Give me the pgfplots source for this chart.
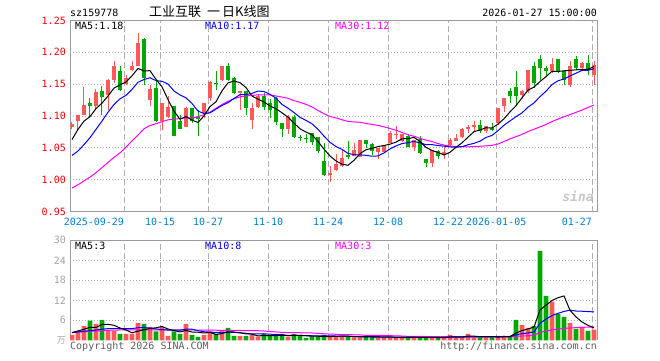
\documentclass[border=0pt]{standalone}
\usepackage{pgfplots}
\pgfplotsset{compat=1.18}
\usepackage{fontspec}
\setmainfont{DejaVu Sans Mono}
\newfontfamily\cjk{Noto Sans CJK SC}
\definecolor{cR}{RGB}{255,88,88}
\definecolor{cG}{RGB}{0,168,0}
\definecolor{frameC}{RGB}{155,155,155}
\definecolor{gridC}{RGB}{175,175,175}
\definecolor{xlabC}{RGB}{0,128,210}
\definecolor{vlabC}{RGB}{165,165,165}
\definecolor{footC}{RGB}{95,95,95}
\definecolor{maB}{RGB}{0,0,255}
\definecolor{maM}{RGB}{255,0,255}

\pgfplotstableread{
i v
0 1.063
1 1.079
2 1.092
3 1.099
4 1.1116
5 1.1202
6 1.1314
7 1.1438
8 1.149
9 1.1534
10 1.1632
11 1.1746
12 1.1708
13 1.1712
14 1.1576
15 1.1458
16 1.1258
17 1.1076
18 1.095
19 1.0992
20 1.0936
21 1.0898
22 1.1002
23 1.1148
24 1.1224
25 1.1396
26 1.152
27 1.155
28 1.1524
29 1.1446
30 1.1314
31 1.1264
32 1.122
33 1.1158
34 1.1114
35 1.105
36 1.0982
37 1.0888
38 1.080
39 1.0748
40 1.0706
41 1.060
42 1.048
43 1.0372
44 1.0294
45 1.0244
46 1.0226
47 1.0304
48 1.0408
49 1.047
50 1.0492
51 1.052
52 1.0536
53 1.0558
54 1.059
55 1.0642
56 1.0646
57 1.0664
58 1.060
59 1.0508
60 1.0458
61 1.0428
62 1.0388
63 1.043
64 1.051
65 1.0578
66 1.0668
67 1.0754
68 1.078
69 1.0816
70 1.0812
71 1.0872
72 1.0956
73 1.1066
74 1.1162
75 1.1286
76 1.1406
77 1.1454
78 1.1542
79 1.1618
80 1.1702
81 1.170
82 1.171
83 1.1716
84 1.1726
85 1.173
86 1.1732
87 1.1778
}\maFive

\pgfplotstableread{
i v
0 1.038
1 1.045
2 1.055
3 1.066
4 1.079
5 1.092
6 1.106
7 1.118
8 1.127
9 1.1325
10 1.1417
11 1.153
12 1.1573
13 1.1601
14 1.1555
15 1.1545
16 1.1502
17 1.1392
18 1.1331
19 1.1284
20 1.1197
21 1.1078
22 1.1039
23 1.1049
24 1.1108
25 1.1166
26 1.1209
27 1.1276
28 1.1336
29 1.1335
30 1.1355
31 1.1392
32 1.1385
33 1.1341
34 1.128
35 1.1182
36 1.1123
37 1.1054
38 1.0979
39 1.0931
40 1.0878
41 1.0791
42 1.0684
43 1.0586
44 1.0521
45 1.0475
46 1.0413
47 1.0392
48 1.039
49 1.0382
50 1.0368
51 1.0373
52 1.042
53 1.0483
54 1.053
55 1.0567
56 1.0583
57 1.060
58 1.0579
59 1.0549
60 1.055
61 1.0537
62 1.0526
63 1.0515
64 1.0509
65 1.0518
66 1.0548
67 1.0571
68 1.0605
69 1.0663
70 1.0695
71 1.077
72 1.0855
73 1.0923
74 1.0989
75 1.1049
76 1.1139
77 1.1205
78 1.1304
79 1.139
80 1.1494
81 1.1553
82 1.1582
83 1.1629
84 1.1672
85 1.1716
86 1.1716
87 1.1744
}\maTen

\pgfplotstableread{
i v
0 0.987
1 0.992
2 0.998
3 1.004
4 1.011
5 1.019
6 1.027
7 1.035
8 1.042
9 1.051
10 1.061
11 1.070
12 1.080
13 1.085
14 1.088
15 1.091
16 1.094
17 1.095
18 1.096
19 1.097
20 1.097
21 1.099
22 1.102
23 1.106
24 1.112
25 1.118
26 1.123
27 1.127
28 1.130
29 1.1315
30 1.1323
31 1.1333
32 1.1332
33 1.1330
34 1.1314
35 1.1298
36 1.1278
37 1.1241
38 1.1215
39 1.1183
40 1.1143
41 1.1087
42 1.1036
43 1.0992
44 1.0970
45 1.0941
46 1.0915
47 1.0907
48 1.0902
49 1.0883
50 1.0867
51 1.0852
52 1.0830
53 1.0803
54 1.0777
55 1.0741
56 1.0706
57 1.0682
58 1.0649
59 1.0621
60 1.0599
61 1.0567
62 1.0543
63 1.0528
64 1.0520
65 1.0520
66 1.0515
67 1.0521
68 1.0525
69 1.0531
70 1.0538
71 1.0560
72 1.0600
73 1.0640
74 1.0676
75 1.0711
76 1.0757
77 1.0792
78 1.0829
79 1.0867
80 1.0913
81 1.0953
82 1.0988
83 1.1022
84 1.1057
85 1.1094
86 1.1134
87 1.1173
}\maThirty

\pgfplotstableread{
i v
0 2.3
1 2.8
2 3.3
3 3.9
4 3.86
5 4.76
6 4.8
7 4.5
8 3.7
9 3.1
10 2.26
11 2.74
12 3.16
13 3.58
14 3.74
15 4.16
16 3.38
17 2.94
18 2.52
19 2.96
20 2.48
21 2.42
22 2.2
23 2.36
24 1.76
25 2.02
26 2.56
27 2.5
28 2.22
29 2.1
30 1.84
31 1.32
32 1.44
33 1.44
34 1.44
35 1.5
36 1.5
37 1.5
38 1.5
39 1.38
40 1.22
41 1.22
42 1.16
43 1.12
44 1.2
45 1.24
46 1.24
47 1.1
48 1.06
49 1.06
50 0.98
51 0.94
52 0.94
53 0.94
54 0.9
55 0.9
56 0.9
57 0.9
58 0.88
59 0.86
60 0.86
61 0.84
62 0.84
63 1.0
64 1.02
65 1.02
66 1.24
67 1.24
68 1.1
69 1.1
70 1.1
71 0.98
72 1.06
73 1.14
74 2.18
75 2.92
76 3.4
77 4.0
78 9.1
79 10.54
80 11.94
81 12.78
82 13.32
83 9.0
84 7.02
85 5.5
86 4.48
87 3.72
}\vmaFive

\pgfplotstableread{
i v
0 2.3
1 2.5
2 2.7
3 2.9
4 3.1
5 3.3
6 3.5
7 3.5
8 3.5
9 3.48
10 3.51
11 3.77
12 3.83
13 3.64
14 3.42
15 3.21
16 3.06
17 3.05
18 3.05
19 3.35
20 3.32
21 2.9
22 2.57
23 2.44
24 2.36
25 2.25
26 2.49
27 2.35
28 2.29
29 1.93
30 1.93
31 1.94
32 1.97
33 1.83
34 1.77
35 1.67
36 1.41
37 1.47
38 1.47
39 1.41
40 1.36
41 1.36
42 1.33
43 1.31
44 1.29
45 1.23
46 1.23
47 1.13
48 1.09
49 1.13
50 1.11
51 1.09
52 1.02
53 1.0
54 0.98
55 0.94
56 0.92
57 0.92
58 0.91
59 0.88
60 0.88
61 0.87
62 0.87
63 0.94
64 0.94
65 0.94
66 1.04
67 1.04
68 1.05
69 1.06
70 1.06
71 1.11
72 1.15
73 1.12
74 1.64
75 2.01
76 2.19
77 2.53
78 5.12
79 6.36
80 7.43
81 8.09
82 8.66
83 9.05
84 8.78
85 8.72
86 8.63
87 8.52
}\vmaTen

\pgfplotstableread{
i v
0 2.4
2 2.6
4 2.8
6 3.0
8 3.1
10 3.1
15 3.15
20 3.1
25 3.0
28 2.95
29 2.92
30 2.92
31 2.87
32 2.79
33 2.64
34 2.52
35 2.38
36 2.32
37 2.29
38 2.27
39 2.23
40 2.2
41 2.07
42 1.96
43 1.86
44 1.81
45 1.72
46 1.71
47 1.65
48 1.62
49 1.49
50 1.47
51 1.46
52 1.44
53 1.38
54 1.35
55 1.28
56 1.19
57 1.17
58 1.16
59 1.14
60 1.12
61 1.11
62 1.07
63 1.08
64 1.07
65 1.04
66 1.06
67 1.03
68 1.02
69 1.02
70 1.02
71 1.02
72 1.01
73 1.02
74 1.19
75 1.30
76 1.38
77 1.50
78 2.36
79 2.77
80 3.12
81 3.36
82 3.56
83 3.70
84 3.79
85 3.89
86 3.95
87 4.03
}\vmaThirty

\begin{document}
\begin{tikzpicture}
\useasboundingbox (0pt,0pt) rectangle (660pt,360pt);
\fill[white] (0pt,0pt) rectangle (660pt,360pt);

% ---------------- price panel ----------------
\begin{axis}[
  at={(70pt,148.5pt)}, anchor=south west,
  scale only axis, width=527pt, height=191pt,
  xmin=-0.333, xmax=87.5, ymin=0.95, ymax=1.25,
  axis line style={draw=frameC, line width=1pt},
  major tick length=0pt,
  xtick={14.7,22.7,32.7,42.7,52.7,62.7,70.7},
  xticklabels={10-15,10-27,11-10,11-24,12-08,12-22,2026-01-05},
  extra x ticks={8.7,86.7},
  extra x tick labels={2025-09-29,01-27},
  extra x tick style={grid=major, major tick length=0pt,
     xticklabel style={anchor=north east, xshift=0pt}},
  ytick={0.95,1.00,1.05,1.10,1.15,1.20,1.25},
  yticklabels={0.95,1.00,1.05,1.10,1.15,1.20,1.25},
  xmajorgrids, ymajorgrids,
  x grid style={draw=gridC, line width=1pt, dash pattern=on 6pt off 3pt},
  y grid style={draw=gridC, line width=1pt, dash pattern=on 1pt off 2pt},
  xticklabel style={font=\fontsize{10}{10}\selectfont, text=xlabC, inner sep=0pt,
     text height=7.3pt, text depth=0pt, anchor=north, yshift=-6.8pt},
  yticklabel style={font=\fontsize{10}{10}\selectfont, text=red, inner sep=0pt,
     anchor=east, xshift=-4pt},
  /pgf/number format/assume math mode=true,
  unbounded coords=jump,
]
% red wicks
\addplot[cR, line width=1pt, mark=none] coordinates {
(0,1.079)(0,1.090)(0,nan) (1,1.078)(1,1.102)(1,nan) (2,1.101)(2,1.146)(2,nan)
(4,1.109)(4,1.142)(4,nan) (6,1.109)(6,1.158)(6,nan) (7,1.152)(7,1.187)(7,nan)
(9,1.149)(9,1.165)(9,nan) (10,1.170)(10,1.186)(10,nan) (11,1.178)(11,1.230)(11,nan)
(13,1.115)(13,1.149)(13,nan) (15,1.078)(15,1.121)(15,nan) (16,1.097)(16,1.132)(16,nan)
(19,1.082)(19,1.114)(19,nan) (22,1.097)(22,1.121)(22,nan) (23,1.123)(23,1.155)(23,nan)
(25,1.155)(25,1.179)(25,nan) (28,1.109)(28,1.140)(28,nan) (30,1.080)(30,1.121)(30,nan)
(31,1.113)(31,1.134)(31,nan) (36,1.072)(36,1.102)(36,nan) (43,0.996)(43,1.021)(43,nan)
(44,1.014)(44,1.040)(44,nan) (45,1.020)(45,1.046)(45,nan) (47,1.037)(47,1.058)(47,nan)
(48,1.036)(48,1.063)(48,nan) (51,1.033)(51,1.050)(51,nan) (52,1.042)(52,1.055)(52,nan)
(53,1.058)(53,1.076)(53,nan) (54,1.064)(54,1.085)(54,nan) (55,1.059)(55,1.071)(55,nan)
(57,1.045)(57,1.063)(57,nan) (60,1.020)(60,1.047)(60,nan) (62,1.033)(62,1.051)(62,nan)
(63,1.053)(63,1.066)(63,nan) (64,1.060)(64,1.071)(64,nan) (65,1.066)(65,1.081)(65,nan)
(66,1.073)(66,1.086)(66,nan) (67,1.076)(67,1.092)(67,nan) (69,1.074)(69,1.085)(69,nan)
(71,1.086)(71,1.112)(71,nan) (72,1.107)(72,1.128)(72,nan) (75,1.126)(75,1.141)(75,nan)
(76,1.136)(76,1.173)(76,nan) (80,1.167)(80,1.191)(80,nan) (83,1.145)(83,1.187)(83,nan)
(85,1.172)(85,1.185)(85,nan) (87,1.149)(87,1.187)(87,nan)
};
% green wicks
\addplot[cG, line width=1pt, mark=none] coordinates {
(3,1.099)(3,1.128)(3,nan) (5,1.101)(5,1.147)(5,nan) (8,1.139)(8,1.178)(8,nan)
(12,1.149)(12,1.222)(12,nan) (14,1.090)(14,1.157)(14,nan) (17,1.068)(17,1.116)(17,nan)
(18,1.080)(18,1.101)(18,nan) (20,1.089)(20,1.112)(20,nan) (21,1.069)(21,1.110)(21,nan)
(24,1.141)(24,1.170)(24,nan) (26,1.155)(26,1.183)(26,nan) (27,1.134)(27,1.161)(27,nan)
(29,1.102)(29,1.140)(29,nan) (32,1.110)(32,1.136)(32,nan) (33,1.097)(33,1.126)(33,nan)
(34,1.086)(34,1.130)(34,nan) (35,1.067)(35,1.089)(35,nan) (37,1.066)(37,1.101)(37,nan)
(38,1.060)(38,1.070)(38,nan) (39,1.057)(39,1.071)(39,nan) (40,1.055)(40,1.074)(40,nan)
(41,1.042)(41,1.067)(41,nan) (42,1.006)(42,1.057)(42,nan) (46,1.033)(46,1.060)(46,nan)
(49,1.050)(49,1.063)(49,nan) (50,1.039)(50,1.058)(50,nan) (56,1.052)(56,1.071)(56,nan)
(58,1.040)(58,1.068)(58,nan) (59,1.020)(59,1.033)(59,nan) (61,1.033)(61,1.047)(61,nan)
(68,1.074)(68,1.094)(68,nan) (70,1.076)(70,1.089)(70,nan) (73,1.121)(73,1.144)(73,nan)
(74,1.118)(74,1.171)(74,nan) (77,1.144)(77,1.185)(77,nan) (78,1.157)(78,1.196)(78,nan)
(79,1.162)(79,1.178)(79,nan) (81,1.167)(81,1.190)(81,nan) (82,1.149)(82,1.172)(82,nan)
(84,1.172)(84,1.194)(84,nan) (86,1.164)(86,1.196)(86,nan)
};
% red bodies (open -> close)
\addplot[cR, line width=4.8pt, mark=none] coordinates {
(0,1.083)(0,1.087)(0,nan) (1,1.092)(1,1.101)(1,nan) (2,1.102)(2,1.117)(2,nan)
(4,1.115)(4,1.138)(4,nan) (6,1.133)(6,1.157)(6,nan) (7,1.157)(7,1.179)(7,nan)
(9,1.151)(9,1.160)(9,nan) (10,1.172)(10,1.179)(10,nan) (11,1.179)(11,1.214)(11,nan)
(13,1.125)(13,1.143)(13,nan) (15,1.092)(15,1.120)(15,nan) (16,1.098)(16,1.114)(16,nan)
(19,1.083)(19,1.113)(19,nan) (22,1.105)(22,1.121)(22,nan) (23,1.129)(23,1.153)(23,nan)
(25,1.156)(25,1.178)(25,nan) (28,1.136)(28,1.140)(28,nan) (30,1.094)(30,1.112)(30,nan)
(31,1.114)(31,1.132)(31,nan) (36,1.080)(36,1.098)(36,nan) (43,1.008)(43,1.011)(43,nan)
(44,1.015)(44,1.025)(44,nan) (45,1.021)(45,1.034)(45,nan) (47,1.037)(47,1.046)(47,nan)
(48,1.036)(48,1.063)(48,nan) (51,1.043)(51,1.050)(51,nan) (52,1.043)(52,1.054)(52,nan)
(53,1.058)(53,1.074)(53,nan) (54,1.070)(54,1.072)(54,nan) (55,1.060)(55,1.071)(55,nan)
(57,1.052)(57,1.063)(57,nan) (60,1.026)(60,1.046)(60,nan) (62,1.041)(62,1.043)(62,nan)
(63,1.054)(63,1.063)(63,nan) (64,1.060)(64,1.066)(64,nan) (65,1.067)(65,1.080)(65,nan)
(66,1.079)(66,1.082)(66,nan) (67,1.082)(67,1.086)(67,nan) (69,1.076)(69,1.084)(69,nan)
(71,1.089)(71,1.112)(71,nan) (72,1.115)(72,1.128)(72,nan) (75,1.133)(75,1.140)(75,nan)
(76,1.139)(76,1.172)(76,nan) (80,1.170)(80,1.182)(80,nan) (83,1.148)(83,1.178)(83,nan)
(85,1.175)(85,1.184)(85,nan) (87,1.165)(87,1.180)(87,nan)
};
% green bodies (open -> close)
\addplot[cG, line width=4.8pt, mark=none] coordinates {
(3,1.120)(3,1.115)(3,nan) (5,1.140)(5,1.130)(5,nan) (8,1.171)(8,1.141)(8,nan)
(12,1.221)(12,1.160)(12,nan) (14,1.144)(14,1.092)(14,nan) (17,1.115)(17,1.069)(17,nan)
(18,1.092)(18,1.080)(18,nan) (20,1.112)(20,1.092)(20,nan) (21,1.099)(21,1.095)(21,nan)
(24,1.152)(24,1.150)(24,nan) (26,1.179)(26,1.157)(26,nan) (27,1.159)(27,1.136)(27,nan)
(29,1.140)(29,1.112)(29,nan) (32,1.132)(32,1.114)(32,nan) (33,1.121)(33,1.109)(33,nan)
(34,1.129)(34,1.090)(34,nan) (35,1.089)(35,1.080)(35,nan) (37,1.098)(37,1.067)(37,nan)
(38,1.067)(38,1.065)(38,nan) (39,1.0655)(39,1.064)(39,nan) (40,1.073)(40,1.059)(40,nan)
(41,1.067)(41,1.045)(41,nan) (42,1.029)(42,1.007)(42,nan) (46,1.038)(46,1.036)(46,nan)
(49,1.063)(49,1.056)(49,nan) (50,1.056)(50,1.045)(50,nan) (56,1.069)(56,1.052)(56,nan)
(58,1.064)(58,1.042)(58,nan) (59,1.033)(59,1.026)(59,nan) (61,1.045)(61,1.037)(61,nan)
(68,1.086)(68,1.076)(68,nan) (70,1.081)(70,1.078)(70,nan) (73,1.140)(73,1.131)(73,nan)
(74,1.146)(74,1.132)(74,nan) (77,1.179)(77,1.152)(77,nan) (78,1.190)(78,1.175)(78,nan)
(79,1.175)(79,1.170)(79,nan) (81,1.190)(81,1.171)(81,nan) (82,1.170)(82,1.157)(82,nan)
(84,1.190)(84,1.175)(84,nan) (86,1.184)(86,1.172)(86,nan)
};
\addplot[maM, line width=1pt, mark=none] table[x=i,y=v] {\maThirty};
\addplot[maB, line width=1pt, mark=none] table[x=i,y=v] {\maTen};
\addplot[black, line width=1pt, mark=none] table[x=i,y=v] {\maFive};
\end{axis}

% ---------------- volume panel ----------------
\begin{axis}[
  at={(70pt,19.7pt)}, anchor=south west,
  scale only axis, width=527pt, height=100pt,
  xmin=-0.333, xmax=87.5, ymin=0, ymax=30,
  axis x line*=top, axis y line*=box,
  axis line style={draw=frameC, line width=1pt},
  major tick length=0pt,
  xtick={8.7,14.7,22.7,32.7,42.7,52.7,62.7,70.7,86.7},
  xticklabels={},
  ytick={6,12,18,24,30},
  yticklabels={6,12,18,24,30},
  xmajorgrids, ymajorgrids,
  x grid style={draw=gridC, line width=1pt, dash pattern=on 6pt off 3pt},
  y grid style={draw=gridC, line width=1pt, dash pattern=on 1pt off 2pt},
  yticklabel style={font=\fontsize{10}{10}\selectfont, text=vlabC, inner sep=0pt,
     anchor=east, xshift=-4pt},
  /pgf/number format/assume math mode=true,
]
\addplot[ybar, bar width=4.8pt, bar shift=0pt, fill=cR, draw=none] coordinates {
(0,1.6)(1,2.6)(2,4.3)(4,4.9)(6,2.8)(7,2.8)(9,1.9)(10,1.9)(11,5.2)(13,4.0)
(15,4.0)(16,1.3)(19,4.9)(22,1.6)(23,2.7)(25,2.9)(28,1.3)(30,1.6)(31,1.1)(36,1.1)
(43,1.1)(44,1.1)(45,1.3)(47,0.9)(48,0.9)(51,0.9)(52,0.9)(53,0.9)(54,0.9)(55,0.9)
(57,0.9)(60,0.9)(62,0.9)(63,1.6)(64,0.9)(65,0.9)(66,1.9)(67,0.9)(69,0.9)(71,1.3)
(72,1.3)(75,4.6)(76,3.7)(80,11.6)(83,5.2)(85,4.0)(87,3.2)
};
\addplot[ybar, bar width=4.8pt, bar shift=0pt, fill=cG, draw=none] coordinates {
(3,5.9)(5,6.1)(8,1.9)(12,4.9)(14,2.7)(17,2.7)(18,1.9)(20,1.6)(21,1.0)(24,1.9)
(26,3.7)(27,1.3)(29,1.3)(32,1.9)(33,1.3)(34,1.3)(35,1.9)(37,1.9)(38,1.3)(39,0.7)
(40,1.1)(41,1.1)(42,1.6)(46,1.1)(49,1.1)(50,0.9)(56,0.9)(58,0.8)(59,0.8)(61,0.8)
(68,0.9)(70,0.9)(73,1.3)(74,6.1)(77,4.3)(78,26.8)(79,13.3)(81,7.9)(82,7.0)(84,3.4)
(86,2.8)
};
\addplot[maM, line width=1pt, mark=none] table[x=i,y=v] {\vmaThirty};
\addplot[maB, line width=1pt, mark=none] table[x=i,y=v] {\vmaTen};
\addplot[black, line width=1pt, mark=none] table[x=i,y=v] {\vmaFive};
\end{axis}

% ---------------- texts ----------------
\node[anchor=base west, inner sep=0pt] at (70pt,343.2pt) {sz159778};
\node[anchor=base west, inner sep=0pt, font=\cjk\fontsize{13}{13}\selectfont]
   at (149pt,344pt) {工业互联\hspace{6pt}一\hspace{2pt}日K线图};
\node[anchor=base east, inner sep=0pt] at (597pt,343.2pt) {2026-01-27 15:00:00};

\node[anchor=base west, inner sep=0pt, text=black] at (75pt,330.8pt) {MA5:1.18};
\node[anchor=base west, inner sep=0pt, text=maB] at (205pt,330.8pt) {MA10:1.17};
\node[anchor=base west, inner sep=0pt, text=maM] at (335pt,330.8pt) {MA30:1.12};

\node[anchor=base west, inner sep=0pt, text=black] at (75pt,110.8pt) {MA5:3};
\node[anchor=base west, inner sep=0pt, text=maB] at (205pt,110.8pt) {MA10:8};
\node[anchor=base west, inner sep=0pt, text=maM] at (335pt,110.8pt) {MA30:3};

\node[anchor=base east, inner sep=0pt, text=vlabC, font=\cjk\fontsize{9}{9}\selectfont]
   at (66pt,17pt) {万};
\node[anchor=base west, inner sep=0pt, text=footC] at (70pt,10.5pt) {Copyright 2026 SINA.COM};
\node[anchor=base east, inner sep=0pt, text=footC] at (597pt,10.5pt) {http://finance.sina.com.cn};

\node[anchor=center, inner sep=0pt, text=black!22, font=\bfseries\itshape\fontsize{13}{13}\selectfont]
   at (578pt,164pt) {sina};
\end{tikzpicture}
\end{document}
